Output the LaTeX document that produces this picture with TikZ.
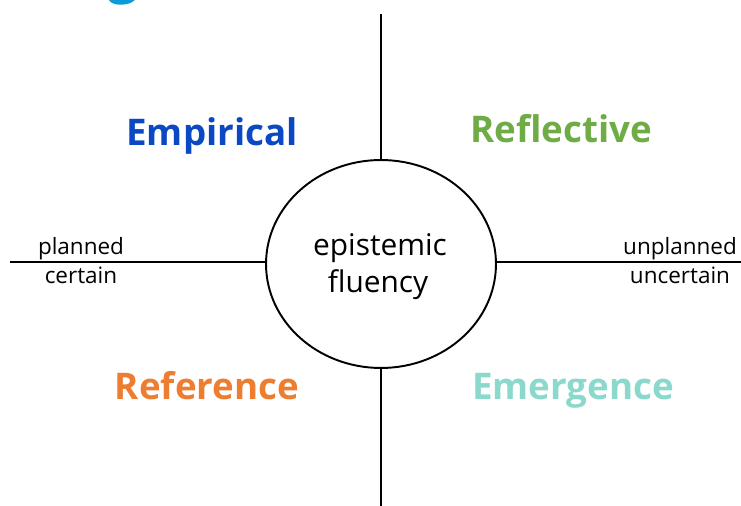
\documentclass[tikz,border=0pt]{standalone}
\usepackage{fontspec}
\setmainfont{Open Sans}
\usepackage{tikz}
\usetikzlibrary{positioning,shapes.geometric}

\definecolor{empblue}{HTML}{0B48C3}
\definecolor{refgreen}{HTML}{6FAC46}
\definecolor{reforange}{HTML}{ED7D31}
\definecolor{emteal}{HTML}{8BD8CC}
\definecolor{headblue}{HTML}{0A9BD8}

\tikzset{
  axis/.style={line width=1.1pt},
  quad/.style={anchor=base, font=\fontsize{20.9}{24}\selectfont\bfseries},
  pole/.style={anchor=base, font=\fontsize{12.8}{16}\selectfont, inner sep=0pt},
  core/.style={anchor=base, font=\fontsize{17}{22}\selectfont, inner sep=0pt}
}

\begin{document}
\begin{tikzpicture}[x=0.02cm,y=-0.02cm]
                \useasboundingbox (0,0) rectangle (741,506);
                \clip (0,0) rectangle (741,506);
                % bit of the heading above
                \node[anchor=base,text=headblue,font=\fontsize{30}{36}\selectfont\bfseries] (head) at (123,-7) {g};
                % centre
                \node[ellipse,draw,line width=1.1pt,inner sep=0pt,
                      minimum width=4.6cm,minimum height=4.16cm] (ef) at (381,264) {};
                \node[core] (ep) at (380,256) {epistemic};
                \node[core] (fl) at (378,293) {fluency};
                % axes
                \coordinate (top) at (381,14);
                \coordinate (bot) at (381,506);
                \coordinate (lft) at (10,262);
                \coordinate (rgt) at (741,262);
                \draw[axis] (top) -- (ef.north);
                \draw[axis] (ef.south) -- (bot);
                \draw[axis] (lft) -- (ef.west |- lft);
                \draw[axis] (ef.east |- rgt) -- (rgt);
                % poles
                \node[pole] (plan) at (81,255) {planned};
                \node[pole] (cert) at (81,284) {certain};
                \node[pole] (unplan) at (680,255) {unplanned};
                \node[pole] (uncert) at (680,284) {uncertain};
                % quadrants
                \node[quad,text=empblue] (emp) at (212,146) {Empirical};
                \node[quad,text=refgreen] (refl) at (561,143) {Reflective};
                \node[quad,text=reforange] (refe) at (207,400) {Reference};
                \node[quad,text=emteal] (emer) at (573,400) {Emergence};
            \end{tikzpicture}
\end{document}
